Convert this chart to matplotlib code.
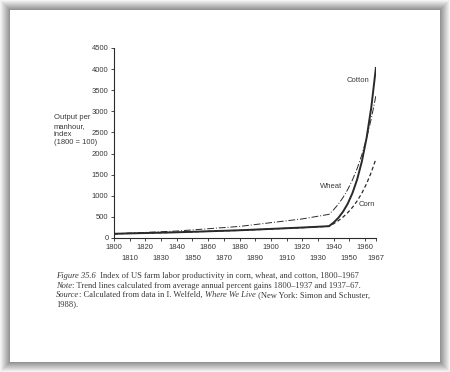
import matplotlib
matplotlib.use("Agg")
import matplotlib.pyplot as plt
from matplotlib.patches import Rectangle

# values (index, 1800 = 100)
years = [1800, 1840, 1880, 1920, 1937, 1940, 1943, 1946, 1949, 1952,
         1955, 1958, 1961, 1964, 1967]
cotton = [100, 135, 183, 248, 280, 366, 478, 624, 815, 1064,
          1390, 1815, 2370, 3095, 4050]
wheat = [100, 165, 274, 452, 560, 670, 802, 960, 1150, 1376,
         1647, 1972, 2360, 2826, 3380]
corn = [100, 134, 181, 245, 278, 339, 410, 496, 600, 726,
        879, 1063, 1287, 1557, 1880]

xticks_top = [1800, 1820, 1840, 1860, 1880, 1900, 1920, 1940, 1960]
xticks_bottom = [1810, 1830, 1850, 1870, 1890, 1910, 1930, 1950, 1967]
yticks = [0, 500, 1000, 1500, 2000, 2500, 3000, 3500, 4000, 4500]
ylabel_lines = ["Output per", "manhour,", "index", "(1800 = 100)"]

W, H = 450, 372
ink = "#2a2a2a"
txt = "#3a3a3a"

fig = plt.figure(figsize=(4.5, 3.72), dpi=100, facecolor="white")

def px(x0, y0, x1, y1):
    # pixel box (from top-left) -> figure fraction rect
    return (x0 / W, 1 - y1 / H), (x1 - x0) / W, (y1 - y0) / H

# page shadow
for i in range(10, 0, -1):
    g = 1 - 0.042 * (11 - i)
    xy, w, h = px(10 - i, 10 - i, 440 + i, 362 + i)
    fig.patches.append(Rectangle(xy, w, h, transform=fig.transFigure,
                                 facecolor=(g, g, g), edgecolor="none", zorder=-5))
xy, w, h = px(10, 10, 440, 362)
fig.patches.append(Rectangle(xy, w, h, transform=fig.transFigure,
                             facecolor="white", edgecolor="none", zorder=-4))

ax = fig.add_axes([114 / W, 1 - 238 / H, (376 - 114) / W, (238 - 48) / H])
ax.patch.set_alpha(0)

ax.plot(years, cotton, color=ink, lw=1.4, solid_capstyle="butt")
ax.plot(years, wheat, color=ink, lw=0.7, dashes=(7, 2, 1, 2))
ax.plot(years, corn, color=ink, lw=0.9, dashes=(3, 2))

ax.set_xlim(1800, 1967)
ax.set_ylim(0, 4500)
ax.spines["top"].set_visible(False)
ax.spines["right"].set_visible(False)
for s in ("left", "bottom"):
    ax.spines[s].set_color(ink)
    ax.spines[s].set_linewidth(0.8)

ax.set_yticks(yticks)
ax.set_yticklabels([str(v) for v in yticks])
ax.set_xticks(xticks_top)
ax.set_xticklabels([str(v) for v in xticks_top])
ax.set_xticks(xticks_bottom, minor=True)
ax.set_xticklabels([str(v) for v in xticks_bottom], minor=True)
ax.tick_params(which="both", direction="out", length=2.5, width=0.6, color=ink,
               labelsize=5.5, labelcolor=txt, pad=1.5)
ax.tick_params(axis="x", which="minor", pad=10)
for t in (ax.get_xticklabels() + ax.get_xticklabels(minor=True)
          + ax.get_yticklabels()):
    t.set_family("Liberation Sans")

fs = 5.5
for i, s in enumerate(ylabel_lines):
    fig.text(54 / W, 1 - (118 + 8.2 * i) / H, s, ha="left", va="center",
             fontsize=fs, color=txt, family="Liberation Sans")

ax.text(1963, 3720, "Cotton", ha="right", va="center", fontsize=fs,
        color=txt, family="Liberation Sans")
ax.text(1938.3, 1210, "Wheat", ha="center", va="center", fontsize=fs,
        color=txt, family="Liberation Sans")
ax.text(1961.2, 790, "Corn", ha="center", va="center", fontsize=fs,
        color=txt, family="Liberation Sans")

# caption with mixed italic runs
cap = [
    [("Figure 35.6", "italic"), ("  Index of US farm labor productivity in corn, wheat, and cotton, 1800\u20131967", "normal")],
    [("Note", "italic"), (": Trend lines calculated from average annual percent gains 1800\u20131937 and 1937\u201367.", "normal")],
    [("Source", "italic"), (": Calculated from data in I. Welfeld, ", "normal"), ("Where We Live", "italic"),
     (" (New York: Simon and Schuster,", "normal")],
    [("1988).", "normal")],
]
line_y = [276, 285.5, 295, 304.5]
r = fig.canvas.get_renderer()
for segs, yy in zip(cap, line_y):
    x = 56
    for s, style in segs:
        t = fig.text(x / W, 1 - yy / H, s, ha="left", va="center",
                     fontsize=6.15, style=style, color=txt,
                     family="Liberation Serif")
        bb = t.get_window_extent(renderer=r)
        x += bb.width

fig.savefig("out.png", dpi=100)
